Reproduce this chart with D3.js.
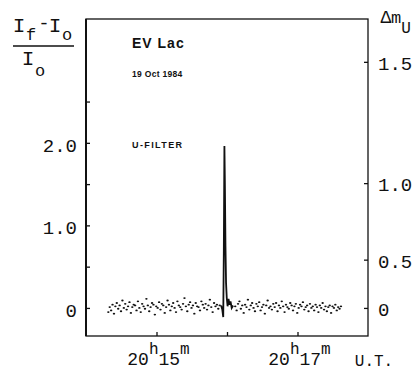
<!DOCTYPE html>
<html>
<head>
<meta charset="utf-8">
<script src="https://cdn.jsdelivr.net/npm/d3@7"></script>
<style>
  html, body { margin: 0; padding: 0; background: #fff; }
  svg { display: block; }
  text { fill: #111; }
</style>
</head>
<body>
<svg id="chart" width="420" height="375"></svg>
<script>
// EV Lac, 19 Oct 1984, U-filter photometry.
// Times are seconds after 20h14m00s UT; values are relative intensity (If - Io)/Io.

// quiescent samples, one every 1.2 s
const cadenceSec = 1.2;
const preStart = 19;
const preValues = [-0.05, 0.01, -0.03, 0.04, -0.07, 0.02, 0.06, -0.01, 0.03, -0.04,
  0.09, 0.00, 0.05, -0.02, 0.02, 0.07, -0.06, 0.01, 0.04, 0.03,
  -0.03, 0.08, 0.00, -0.05, 0.05, 0.02, -0.01, 0.11, 0.03, -0.04,
  0.01, 0.06, 0.04, -0.08, 0.02, 0.00, 0.07, -0.02, 0.05, 0.03,
  -0.06, 0.01, 0.09, 0.04, -0.03, 0.02, 0.06, 0.00, -0.05, 0.08,
  0.03, 0.01, -0.02, 0.05, 0.12, 0.02, -0.04, 0.04, 0.07, 0.00,
  0.03, -0.07, 0.06, 0.02, 0.01, -0.03, 0.08, 0.04, 0.00, 0.05,
  -0.02, 0.03, 0.10, 0.01, -0.05, 0.06, 0.02, 0.04, -0.01, 0.03];
const postStart = 127;
const postValues = [0.02, -0.03, 0.05, 0.08, -0.01, 0.03, -0.06, 0.04, 0.01, 0.10,
  -0.02, 0.03, 0.06, 0.00, -0.04, 0.05, 0.02, 0.07, -0.03, 0.01,
  0.04, -0.07, 0.03, 0.09, 0.00, 0.02, -0.02, 0.05, 0.01, 0.06,
  -0.04, 0.03, 0.00, 0.08, 0.02, -0.05, 0.04, 0.01, -0.01, 0.06,
  0.03, -0.03, 0.02, 0.05, -0.06, 0.00, 0.04, 0.02, 0.07, -0.02,
  0.01, 0.03, -0.04, 0.05, 0.00, 0.02, -0.03, 0.04, 0.01, -0.05,
  0.03, 0.00, 0.06, -0.02, 0.02, -0.04, 0.01, 0.03, -0.06, 0.02,
  0.00, 0.04, -0.03, 0.01, -0.01, 0.02];

// flare, sampled densely and drawn as a line
const flareTimes  = [115.0, 116.0, 116.8, 117.3, 117.8, 118.2, 118.7, 119.2, 119.8, 120.5, 121.3, 122.1, 123.0, 124.0, 125.2];
const flareValues = [0.03, -0.02, -0.11, 0.70, 1.96, 1.50, 0.75, 0.30, 0.12, 0.02, 0.11, 0.04, 0.08, 0.00, 0.03];

// axes
const timeTicks = [60, 120, 180];
const timeTickHour = ["20", "", "20"];
const timeTickMinute = ["15", "", "17"];
const intensityTicks = [0, 0.5, 1.0, 1.5, 2.0, 2.5];
const intensityLabels = ["0", "", "1.0", "", "2.0", ""];
const magTicks = [0, 0.5, 1.0, 1.5];
const magLabels = ["0", "0.5", "1.0", "1.5"];

const svg = d3.select("#chart");
const plotLeft = 86, plotRight = 368, plotTop = 19, plotBottom = 336;
const mono = "'Liberation Mono', 'DejaVu Sans Mono', monospace";
const sans = "'Liberation Sans', Arial, sans-serif";

const x = d3.scaleLinear().domain([0, 240]).range([plotLeft, plotRight]);
const y = d3.scaleLinear().domain([-0.34, 3.5]).range([plotBottom, plotTop]);
// magnitude difference -> relative intensity
const magToFlux = m => Math.pow(10, 0.4 * m) - 1;

// frame
svg.append("rect")
  .attr("x", plotLeft).attr("y", plotTop)
  .attr("width", plotRight - plotLeft).attr("height", plotBottom - plotTop)
  .attr("fill", "none").attr("stroke", "#111").attr("stroke-width", 1.3);
svg.append("line")
  .attr("x1", plotLeft).attr("x2", plotLeft).attr("y1", plotTop).attr("y2", plotBottom)
  .attr("stroke", "#111").attr("stroke-width", 2);

// left axis (relative intensity)
const yAxis = d3.axisLeft(y)
  .tickValues(intensityTicks)
  .tickFormat((d, i) => intensityLabels[i])
  .tickSizeInner(-4).tickSizeOuter(0).tickPadding(9);
const gy = svg.append("g").attr("transform", `translate(${plotLeft},0)`).call(yAxis);
gy.select(".domain").remove();
gy.selectAll("line").attr("stroke", "#111").attr("stroke-width", 1.3);
gy.selectAll("text").attr("font-family", mono).attr("font-size", 19)
  .attr("dy", "0.45em").attr("fill", "#111");

// right axis (magnitude)
const mAxis = d3.axisRight(y)
  .tickValues(magTicks.map(magToFlux))
  .tickFormat((d, i) => magLabels[i])
  .tickSizeInner(-4).tickSizeOuter(0).tickPadding(10);
const gm = svg.append("g").attr("transform", `translate(${plotRight},0)`).call(mAxis);
gm.select(".domain").remove();
gm.selectAll("line").attr("stroke", "#111").attr("stroke-width", 1.3);
gm.selectAll("text").attr("font-family", mono).attr("font-size", 19)
  .attr("dy", "0.4em").attr("fill", "#111");

// bottom axis (UT)
const xAxis = d3.axisBottom(x)
  .tickValues(timeTicks)
  .tickFormat(() => "")
  .tickSizeInner(-4).tickSizeOuter(0);
const gx = svg.append("g").attr("transform", `translate(0,${plotBottom})`).call(xAxis);
gx.select(".domain").remove();
gx.selectAll("line").attr("stroke", "#111").attr("stroke-width", 1.3);

timeTicks.forEach((t, i) => {
  if (!timeTickHour[i]) return;
  const lab = svg.append("text")
    .attr("x", x(t) + 2).attr("y", 365)
    .attr("text-anchor", "middle")
    .attr("font-family", mono).attr("font-size", 18);
  lab.append("tspan").text(timeTickHour[i]);
  lab.append("tspan").attr("dy", -11).attr("font-size", 16).text("h");
  lab.append("tspan").attr("dy", 11).text(timeTickMinute[i]);
  lab.append("tspan").attr("dy", -11).attr("font-size", 16).text("m");
});
svg.append("text").attr("x", 374).attr("y", 366)
  .attr("text-anchor", "middle")
  .attr("font-family", mono).attr("font-size", 16).text("U.T.");

// left title: (If - Io) / Io
const tt = (txt, cx, by, size) => svg.append("text")
  .attr("x", cx).attr("y", by).attr("text-anchor", "middle")
  .attr("font-family", mono).attr("font-size", size).text(txt);
tt("I", 19, 32, 21);
tt("f", 31, 40, 17);
tt("-", 44, 29, 19);
tt("I", 55, 32, 21);
tt("o", 67, 40, 17);
svg.append("line").attr("x1", 13).attr("x2", 74).attr("y1", 46).attr("y2", 46)
  .attr("stroke", "#111").attr("stroke-width", 1.5);
tt("I", 28, 65, 21);
tt("o", 40, 76, 17);

// right title: Δm_U
tt("\u0394", 386, 23, 18);
tt("m", 396, 23, 17);
tt("U", 406, 33, 16);

// annotations
svg.append("text").attr("x", 132).attr("y", 48)
  .attr("font-family", sans).attr("font-weight", "bold")
  .attr("font-size", 14).attr("letter-spacing", 1).text("EV Lac");
svg.append("text").attr("x", 132).attr("y", 77)
  .attr("font-family", sans).attr("font-weight", "bold")
  .attr("font-size", 8.5).attr("letter-spacing", 0.3).text("19 Oct 1984");
svg.append("text").attr("x", 132).attr("y", 148)
  .attr("font-family", sans).attr("font-weight", "bold")
  .attr("font-size", 9).attr("letter-spacing", 1.4).text("U-FILTER");

// quiescent points
const points = preValues.map((v, i) => [preStart + i * cadenceSec, v])
  .concat(postValues.map((v, i) => [postStart + i * cadenceSec, v]));
svg.append("g").selectAll("ellipse").data(points).join("ellipse")
  .attr("cx", d => x(d[0])).attr("cy", d => y(d[1]))
  .attr("rx", 1.2).attr("ry", 0.9).attr("fill", "#111");

// flare line
const flare = flareTimes.map((t, i) => [t, flareValues[i]]);
svg.append("path").datum(flare)
  .attr("d", d3.line().x(d => x(d[0])).y(d => y(d[1])))
  .attr("fill", "none").attr("stroke", "#111").attr("stroke-width", 1.8)
  .attr("stroke-linejoin", "miter");
</script>
</body>
</html>
